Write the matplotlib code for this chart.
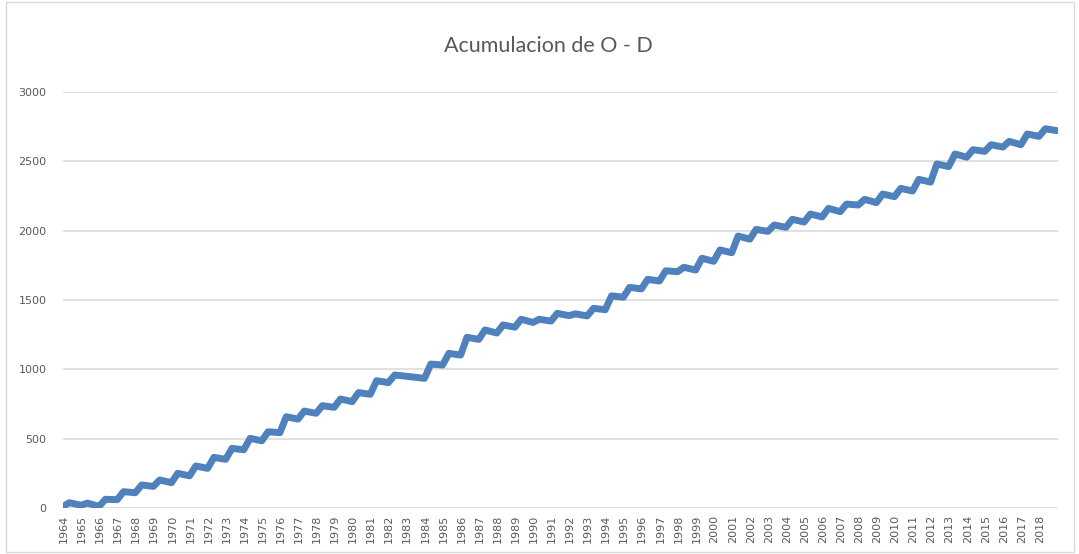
import numpy as np
import matplotlib
matplotlib.use("Agg")
import matplotlib.pyplot as plt
from matplotlib.patches import Rectangle

# cumulative O - D
years = list(range(1964, 2019))
start_value = 15
# value reached after the yearly rise
year_peak = [38, 35, 63, 118, 166, 202, 250, 303, 365, 430,
             502, 550, 658, 699, 738, 786, 832, 918, 959, 945,
             1038, 1115, 1231, 1284, 1320, 1361, 1361, 1404, 1400, 1440,
             1530, 1591, 1649, 1711, 1736, 1801, 1861, 1961, 2009, 2041,
             2082, 2120, 2161, 2192, 2226, 2264, 2305, 2370, 2481, 2553,
             2584, 2620, 2644, 2697, 2735]
# value at the end of each year (before the next rise)
year_end = [20, 12, 60, 110, 156, 183, 232, 286, 351, 420,
            485, 543, 641, 683, 726, 767, 820, 904, 950, 935,
            1031, 1103, 1216, 1262, 1304, 1338, 1348, 1387, 1385, 1430,
            1520, 1580, 1637, 1704, 1716, 1779, 1841, 1939, 1995, 2024,
            2062, 2099, 2137, 2185, 2202, 2245, 2286, 2350, 2462, 2530,
            2572, 2603, 2620, 2680, 2721]

# build the line: each year rises early, then flattens out
xs = [0.0]
ys = [start_value]
for i in range(len(years)):
    xs += [i + 0.3, i + 0.95]
    ys += [year_peak[i], year_end[i]]

fig = plt.figure(figsize=(10.79, 5.54), dpi=100)
fig.patches.append(Rectangle((6 / 1079, 2 / 554), 1068 / 1079, 550 / 554,
                             transform=fig.transFigure, fill=False,
                             edgecolor="#d9d9d9", linewidth=1.0))

ax = fig.add_axes([63 / 1079, 1 - 508 / 554, 995 / 1079, 416 / 554])
ax.plot(xs, ys, color="#4f81bd", linewidth=5.0,
        solid_joinstyle="round", solid_capstyle="round", zorder=3)

ax.set_xlim(-0.05, 55)
ax.set_ylim(0, 3000)
ax.set_yticks(np.arange(0, 3001, 500))
ax.set_xticks(range(len(years)))
ax.set_xticklabels([str(y) for y in years], rotation=90)

ax.grid(axis="y", color="#d9d9d9", linewidth=1.1)
ax.set_axisbelow(True)
for side in ["top", "right", "left", "bottom"]:
    ax.spines[side].set_visible(False)
ax.tick_params(axis="both", length=0, colors="#595959", labelsize=8)
ax.tick_params(axis="y", pad=12)
ax.tick_params(axis="x", pad=5)

fig.text(548 / 1079, 1 - 46 / 554, "Acumulacion de O - D", ha="center",
         va="center", fontsize=15.5, color="#595959", family="Lato")

fig.savefig("out.png", dpi=100)
